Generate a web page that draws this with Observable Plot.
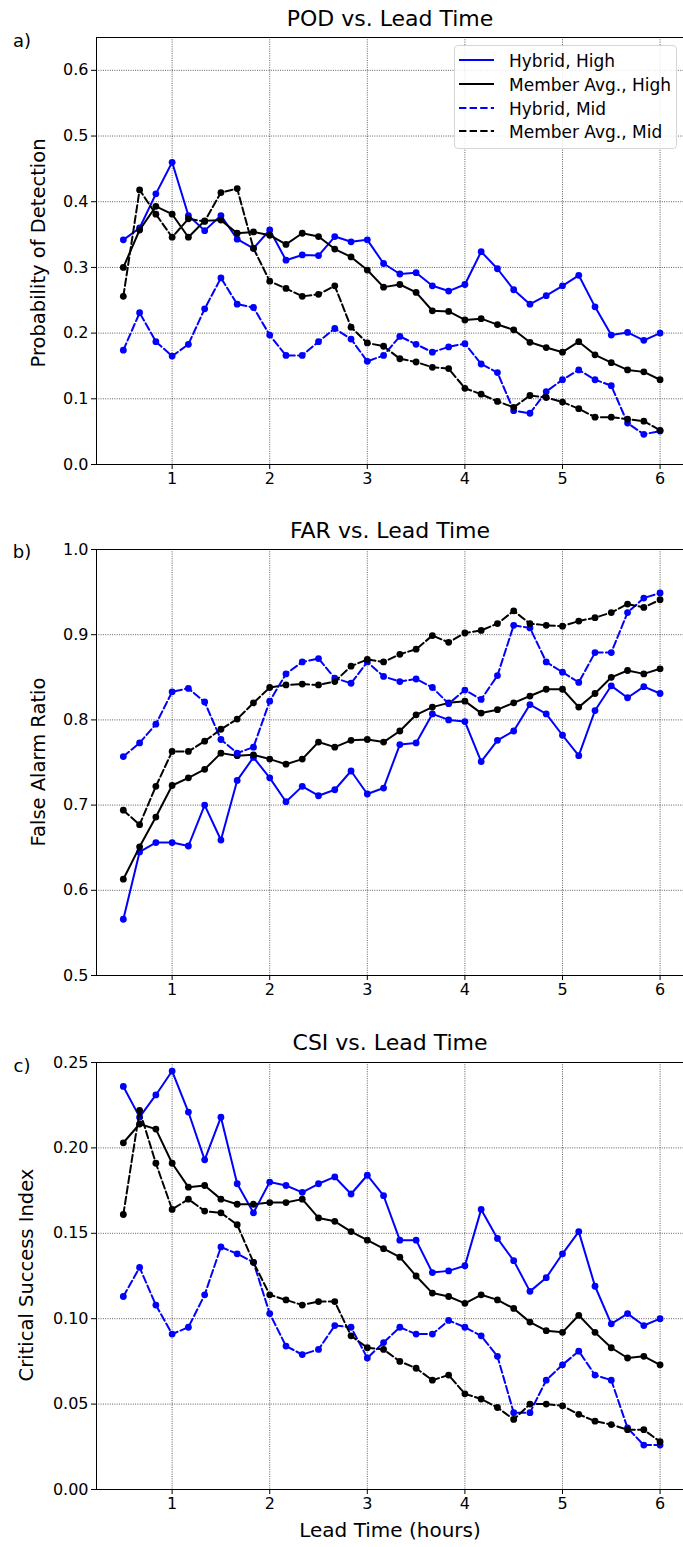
<!DOCTYPE html>
<html>
<head>
<meta charset="utf-8">
<script src="https://cdn.jsdelivr.net/npm/d3@7"></script>
<script src="https://cdn.jsdelivr.net/npm/@observablehq/plot@0.6"></script>
<style>
  html, body { margin: 0; padding: 0; background: #fff; }
  #wrap { position: relative; width: 683px; height: 1547px; overflow: hidden; font-family: "DejaVu Sans", sans-serif; color: #000; }
  .panel { position: absolute; left: 0; }
  .txt { position: absolute; white-space: nowrap; transform: translate(-50%, -50%); line-height: 1; }
  .ylab { position: absolute; white-space: nowrap; transform: translate(-50%, -50%) rotate(-90deg); line-height: 1; font-size: 19.5px; }
  .legend { position: absolute; left: 454px; top: 45px; width: 221px; height: 102px; border: 1px solid #d6d6d6; border-radius: 4px; background: rgba(255,255,255,0.85); font-size: 17px; }
  .legend .row { position: absolute; left: 0; height: 20px; }
  .legend svg { position: absolute; left: 4px; top: 0; }
  .legend span { position: absolute; left: 54px; top: 1px; white-space: nowrap; }
</style>
</head>
<body>
<div id="wrap"></div>
<script>
// ---- data ----
const leadMinutes = [30,40,50,60,70,80,90,100,110,120,130,140,150,160,170,180,190,200,210,220,230,240,250,260,270,280,290,300,310,320,330,340,350,360];
const xTicks = [1,2,3,4,5,6];

const seriesNames = ["Hybrid, High", "Member Avg., High", "Hybrid, Mid", "Member Avg., Mid"];
const seriesColors = ["#0000ff", "#000000", "#0000ff", "#000000"];
const seriesDashed = [false, false, true, true];

const podHybridHigh = [0.342,0.360,0.412,0.460,0.379,0.356,0.379,0.343,0.329,0.357,0.311,0.319,0.318,0.347,0.339,0.342,0.306,0.290,0.292,0.272,0.264,0.274,0.324,0.298,0.266,0.244,0.257,0.272,0.288,0.240,0.197,0.201,0.189,0.200];
const podMemberHigh = [0.300,0.357,0.393,0.381,0.346,0.371,0.372,0.352,0.354,0.349,0.335,0.352,0.347,0.328,0.316,0.296,0.270,0.274,0.262,0.234,0.233,0.220,0.222,0.213,0.205,0.186,0.178,0.171,0.187,0.167,0.155,0.144,0.141,0.129];
const podHybridMid = [0.174,0.231,0.187,0.165,0.183,0.237,0.284,0.244,0.239,0.197,0.166,0.166,0.187,0.207,0.191,0.157,0.166,0.195,0.183,0.171,0.179,0.184,0.153,0.140,0.082,0.078,0.111,0.129,0.144,0.129,0.120,0.063,0.046,0.051];
const podMemberMid = [0.256,0.418,0.381,0.346,0.374,0.370,0.414,0.420,0.329,0.279,0.268,0.256,0.259,0.272,0.209,0.185,0.180,0.161,0.156,0.148,0.146,0.116,0.107,0.096,0.087,0.105,0.102,0.095,0.085,0.072,0.072,0.069,0.066,0.052];

const farHybridHigh = [0.566,0.645,0.656,0.656,0.652,0.700,0.659,0.729,0.756,0.732,0.704,0.722,0.711,0.718,0.740,0.713,0.720,0.771,0.773,0.807,0.800,0.798,0.751,0.776,0.787,0.818,0.807,0.782,0.758,0.811,0.840,0.826,0.839,0.831];
const farMemberHigh = [0.613,0.651,0.686,0.723,0.732,0.742,0.761,0.758,0.759,0.754,0.748,0.754,0.774,0.768,0.776,0.777,0.774,0.787,0.806,0.815,0.820,0.822,0.808,0.812,0.820,0.828,0.836,0.836,0.815,0.831,0.850,0.858,0.854,0.860];
const farHybridMid = [0.757,0.773,0.795,0.833,0.837,0.821,0.777,0.761,0.768,0.822,0.854,0.868,0.872,0.849,0.843,0.868,0.851,0.845,0.848,0.838,0.819,0.835,0.824,0.852,0.911,0.908,0.868,0.856,0.844,0.879,0.879,0.926,0.943,0.949];
const farMemberMid = [0.694,0.677,0.722,0.763,0.763,0.775,0.789,0.801,0.820,0.838,0.841,0.842,0.841,0.845,0.863,0.871,0.868,0.877,0.883,0.899,0.891,0.902,0.905,0.913,0.928,0.913,0.911,0.910,0.916,0.920,0.926,0.936,0.932,0.941];

const csiHybridHigh = [0.236,0.218,0.231,0.245,0.221,0.193,0.218,0.179,0.162,0.180,0.178,0.174,0.179,0.183,0.173,0.184,0.172,0.146,0.146,0.127,0.128,0.131,0.164,0.147,0.134,0.116,0.124,0.138,0.151,0.119,0.097,0.103,0.096,0.100];
const csiMemberHigh = [0.203,0.214,0.211,0.191,0.177,0.178,0.170,0.167,0.167,0.168,0.168,0.170,0.159,0.157,0.151,0.146,0.141,0.136,0.125,0.115,0.113,0.109,0.114,0.111,0.106,0.098,0.093,0.092,0.102,0.092,0.083,0.077,0.078,0.073];
const csiHybridMid = [0.113,0.130,0.108,0.091,0.095,0.114,0.142,0.138,0.133,0.103,0.084,0.079,0.082,0.096,0.095,0.077,0.086,0.095,0.091,0.091,0.099,0.095,0.090,0.078,0.045,0.045,0.064,0.073,0.081,0.067,0.064,0.036,0.026,0.026];
const csiMemberMid = [0.161,0.222,0.191,0.164,0.170,0.163,0.162,0.155,0.133,0.114,0.111,0.108,0.110,0.110,0.090,0.083,0.082,0.075,0.071,0.064,0.067,0.056,0.053,0.048,0.041,0.050,0.050,0.049,0.044,0.040,0.038,0.035,0.035,0.028];

const podTicks = [0.0,0.1,0.2,0.3,0.4,0.5,0.6];
const farTicks = [0.5,0.6,0.7,0.8,0.9,1.0];
const csiTicks = [0.00,0.05,0.10,0.15,0.20,0.25];

// ---- drawing ----
const wrap = document.getElementById("wrap");
const xDomain = [0.225, 6.24];
const gridStyle = {stroke: "#000", strokeOpacity: 0.8, strokeWidth: 0.8, strokeDasharray: "1,1.3"};

function makePanel(cfg) {
  const marks = [
    Plot.gridX(xTicks, gridStyle),
    Plot.gridY(cfg.yTicks, gridStyle),
  ];
  cfg.series.forEach((vals, i) => {
    const rows = vals.map((v, j) => ({x: leadMinutes[j] / 60, y: v}));
    marks.push(Plot.line(rows, {x: "x", y: "y", stroke: seriesColors[i], strokeWidth: 2,
      strokeDasharray: seriesDashed[i] ? "7.4,3.2" : null}));
    marks.push(Plot.dot(rows, {x: "x", y: "y", r: 3.4, fill: seriesColors[i]}));
  });
  marks.push(
    Plot.ruleX([xDomain[0]], {stroke: "#000", strokeWidth: 1}),
    Plot.ruleY(cfg.yDomain, {stroke: "#000", strokeWidth: 1}),
    Plot.axisX(xTicks, {tickSize: 5, tickPadding: 3, tickFormat: d => String(d), label: null, fontSize: 16}),
    Plot.axisY(cfg.yTicks, {tickSize: 5, tickPadding: 3, tickFormat: cfg.fmt, label: null, fontSize: 16})
  );
  const svg = Plot.plot({
    width: 683,
    height: cfg.height,
    marginLeft: 96,
    marginRight: 0,
    marginTop: cfg.mt,
    marginBottom: cfg.mb,
    style: {fontFamily: "DejaVu Sans", fontSize: "16px", color: "#000", background: "transparent"},
    x: {domain: xDomain, label: null},
    y: {domain: cfg.yDomain, label: null},
    marks
  });
  const div = document.createElement("div");
  div.className = "panel";
  div.style.top = cfg.top + "px";
  div.appendChild(svg);
  wrap.appendChild(div);
}

makePanel({top: 0, height: 500, mt: 37, mb: 36, yDomain: [0, 0.65], yTicks: podTicks, fmt: d3.format(".1f"),
  series: [podHybridHigh, podMemberHigh, podHybridMid, podMemberMid]});
makePanel({top: 500, height: 510, mt: 49, mb: 35, yDomain: [0.5, 1.0], yTicks: farTicks, fmt: d3.format(".1f"),
  series: [farHybridHigh, farMemberHigh, farHybridMid, farMemberMid]});
makePanel({top: 1010, height: 537, mt: 52, mb: 58, yDomain: [0, 0.25], yTicks: csiTicks, fmt: d3.format(".2f"),
  series: [csiHybridHigh, csiMemberHigh, csiHybridMid, csiMemberMid]});

function addText(cls, text, x, y, size) {
  const el = document.createElement("div");
  el.className = cls;
  el.textContent = text;
  el.style.left = x + "px";
  el.style.top = y + "px";
  if (size) el.style.fontSize = size + "px";
  wrap.appendChild(el);
}
addText("txt", "POD vs. Lead Time", 390, 19, 22);
addText("txt", "FAR vs. Lead Time", 390, 531, 22);
addText("txt", "CSI vs. Lead Time", 390, 1043, 22);
addText("txt", "a)", 22, 41, 18);
addText("txt", "b)", 22, 552, 18);
addText("txt", "c)", 22, 1066, 18);
addText("ylab", "Probability of Detection", 39, 253);
addText("ylab", "False Alarm Ratio", 39, 762);
addText("ylab", "Critical Success Index", 27, 1275);
addText("txt", "Lead Time (hours)", 390, 1530, 20);

// legend
const legend = document.createElement("div");
legend.className = "legend";
seriesNames.forEach((name, i) => {
  const row = document.createElement("div");
  row.className = "row";
  row.style.top = (4 + i * 23.8) + "px";
  row.style.width = "100%";
  const dash = seriesDashed[i] ? ' stroke-dasharray="7.4,3.2"' : "";
  row.innerHTML = `<svg width="40" height="20"><line x1="0" x2="35" y1="10" y2="10" stroke="${seriesColors[i]}" stroke-width="2"${dash}/></svg><span>${name}</span>`;
  legend.appendChild(row);
});
wrap.appendChild(legend);
</script>
</body>
</html>
